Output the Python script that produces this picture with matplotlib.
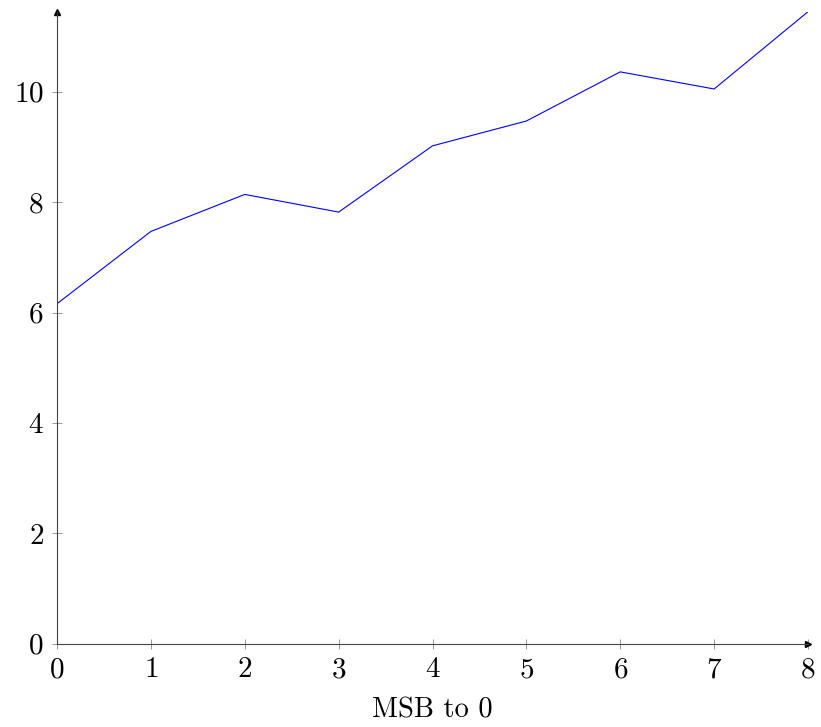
import matplotlib
matplotlib.use("Agg")
import matplotlib.pyplot as plt

x = [0, 1, 2, 3, 4, 5, 6, 7, 8]
y = [6.16, 7.47, 8.14, 7.82, 9.02, 9.47, 10.36, 10.05, 11.45]
xticks = [0, 1, 2, 3, 4, 5, 6, 7, 8]
yticks = [0, 2, 4, 6, 8, 10]

plt.rcParams['font.family'] = 'serif'
plt.rcParams['font.serif'] = ['cmr10']
plt.rcParams['axes.formatter.use_mathtext'] = True

fig = plt.figure(figsize=(8.21, 7.27), dpi=100)
ax = fig.add_axes([57/821, (727-643.8)/727, (808-57)/821, (643.8-11.7)/727])

ax.plot(x, y, color='blue', lw=0.8)
ax.set_xlim(0, 8)
ax.set_ylim(0, max(y))

for s in ['top', 'right']:
    ax.spines[s].set_visible(False)
for s in ['left', 'bottom']:
    ax.spines[s].set_color('#444444')
    ax.spines[s].set_linewidth(0.8)

ax.set_xticks(xticks)
ax.set_yticks(yticks)
ax.tick_params(direction='inout', length=7, width=0.6, color='#888888',
               labelsize=21)
ax.tick_params(axis='x', pad=6)
ax.tick_params(axis='y', pad=6)
ax.set_xlabel("MSB to 0", fontsize=20.5, labelpad=10)

# arrow heads at the end of the axes
ax.plot(1, 0, '>', color='black', ms=5, transform=ax.transAxes, clip_on=False)
ax.plot(0, 1, '^', color='black', ms=5, transform=ax.transAxes, clip_on=False)

plt.savefig("out.png", dpi=100)
